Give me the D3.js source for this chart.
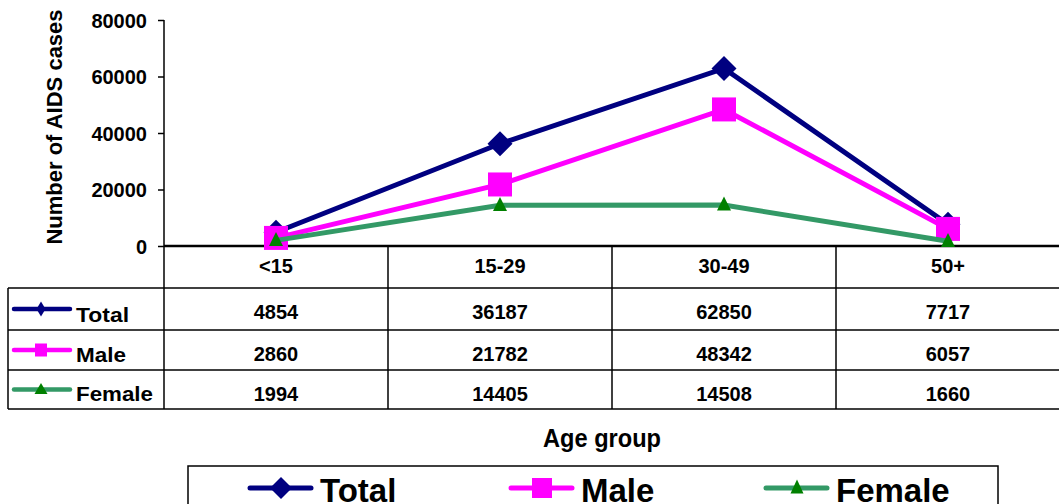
<!DOCTYPE html>
<html>
<head>
<meta charset="utf-8">
<script src="https://cdn.jsdelivr.net/npm/d3@7"></script>
<style>
  body { margin: 0; background: #fff; }
  svg { display: block; font-family: Arial, "Liberation Sans", sans-serif; }
</style>
</head>
<body>
<div id="chart"></div>
<script>
// data
const ageGroups = ["<15", "15-29", "30-49", "50+"];
const totalCases = [4854, 36187, 62850, 7717];
const maleCases = [2860, 21782, 48342, 6057];
const femaleCases = [1994, 14405, 14508, 1660];
const yTicks = [0, 20000, 40000, 60000, 80000];

const series = [
    {name: "Total", values: totalCases, line: "#000080", fill: "#000080", shape: "diamond"},
    {name: "Male", values: maleCases, line: "#ff00ff", fill: "#ff00ff", shape: "square"},
    {name: "Female", values: femaleCases, line: "#339966", fill: "#008000", shape: "triangle"}
];

const W = 1059, H = 504;
const svg = d3.select("#chart").append("svg")
    .attr("width", W).attr("height", H);

const plotLeft = 164, plotRight = 1060, plotTop = 20, zeroY = 246;
const rowLines = [288, 330, 370, 409];
const labelWidths = [53, 50, 77];
const narrow = "'Liberation Sans Narrow', 'Arial Narrow', Arial, sans-serif";

const x = d3.scaleBand().domain(ageGroups).range([plotLeft, plotRight]);
const y = d3.scaleLinear().domain([0, 80000]).range([zeroY, plotTop]);
const cx = a => x(a) + x.bandwidth() / 2;

// y axis
const yAxis = svg.append("g")
    .attr("transform", `translate(${plotLeft},0)`)
    .call(d3.axisLeft(y).tickValues(yTicks).tickSize(6).tickSizeOuter(0).tickFormat(d3.format("d")));
yAxis.select(".domain").remove();
yAxis.selectAll("line").attr("stroke", "#000").attr("stroke-width", 1.5);
yAxis.selectAll("text")
    .attr("x", -17).attr("dy", "0.36em")
    .style("font-size", "20px").style("font-weight", "bold")
    .style("font-family", "Arial, 'Liberation Sans', sans-serif");

svg.append("text")
    .attr("transform", `translate(62,127) rotate(-90)`)
    .attr("text-anchor", "middle")
    .style("font-size", "22px").style("font-weight", "bold")
    .text("Number of AIDS cases");

// table grid
const tableBottom = rowLines[3];
const g = svg.append("g").attr("stroke", "#000").attr("stroke-width", 1.5);
g.append("line").attr("x1", plotLeft).attr("x2", plotLeft).attr("y1", plotTop).attr("y2", tableBottom);
g.append("line").attr("x1", plotLeft).attr("x2", W).attr("y1", zeroY).attr("y2", zeroY).attr("stroke-width", 2.5);
rowLines.forEach(ry => {
    g.append("line").attr("x1", 8).attr("x2", W).attr("y1", ry).attr("y2", ry);
});
g.append("line").attr("x1", 8).attr("x2", 8).attr("y1", rowLines[0]).attr("y2", tableBottom);
ageGroups.slice(1).forEach(a => {
    g.append("line").attr("x1", x(a)).attr("x2", x(a)).attr("y1", zeroY).attr("y2", tableBottom);
});

// header labels
svg.selectAll(".hdr").data(ageGroups).enter().append("text")
    .attr("x", d => cx(d))
    .attr("y", 273)
    .attr("text-anchor", "middle")
    .style("font-size", "20px").style("font-weight", "bold")
    .text(d => d);

function marker(sel, shape, w, h, fill) {
    if (shape === "diamond") {
        sel.append("path").attr("d", `M0,${-h / 2}L${w / 2},0L0,${h / 2}L${-w / 2},0Z`).attr("fill", fill);
    } else if (shape === "square") {
        sel.append("rect").attr("x", -w / 2).attr("y", -h / 2).attr("width", w).attr("height", h).attr("fill", fill);
    } else {
        sel.append("path").attr("d", `M0,${-h * 0.6}L${w / 2},${h * 0.4}L${-w / 2},${h * 0.4}Z`).attr("fill", fill);
    }
}

const tableMk = {diamond: [9, 15], square: [12, 13], triangle: [13, 11]};
const plotMk = {diamond: [25, 25], square: [24, 24], triangle: [14, 14]};
const legMk = {diamond: [22, 22], square: [20, 20], triangle: [13, 14]};

// table rows
series.forEach((s, i) => {
    const rTop = rowLines[i], rBot = rowLines[i + 1];
    const mid = (rTop + rBot) / 2;
    const k = svg.append("g");
    k.append("line").attr("x1", 14).attr("x2", 70).attr("y1", mid).attr("y2", mid)
        .attr("stroke", s.line).attr("stroke-width", 4.5).attr("stroke-linecap", "round");
    const m = k.append("g").attr("transform", `translate(41,${mid})`);
    marker(m, s.shape, tableMk[s.shape][0], tableMk[s.shape][1], s.fill);
    k.append("text").attr("x", 76).attr("y", rBot - 8)
        .attr("textLength", labelWidths[i]).attr("lengthAdjust", "spacingAndGlyphs")
        .style("font-size", "21px").style("font-weight", "bold")
        .text(s.name);
    svg.selectAll(null).data(s.values).enter().append("text")
        .attr("x", (d, j) => cx(ageGroups[j]))
        .attr("y", rTop + 31)
        .attr("text-anchor", "middle")
        .style("font-size", "20px").style("font-weight", "bold")
        .text(d => d);
});

// lines and markers, series by series
const lineGen = d3.line().x((d, j) => cx(ageGroups[j])).y(d => y(d));
series.forEach(s => {
    svg.append("path").datum(s.values).attr("d", lineGen)
        .attr("fill", "none").attr("stroke", s.line).attr("stroke-width", 5)
        .attr("stroke-linejoin", "miter");
    s.values.forEach((v, j) => {
        const m = svg.append("g")
            .attr("transform", `translate(${cx(ageGroups[j])},${y(v)})`);
        marker(m, s.shape, plotMk[s.shape][0], plotMk[s.shape][1], s.fill);
    });
});

// axis title
svg.append("text").attr("x", 602).attr("y", 447).attr("text-anchor", "middle")
    .attr("textLength", 118).attr("lengthAdjust", "spacingAndGlyphs")
    .style("font-size", "26px").style("font-weight", "bold")
    .text("Age group");

// legend
svg.append("rect").attr("x", 188).attr("y", 466).attr("width", 810).attr("height", 45)
    .attr("fill", "none").attr("stroke", "#000").attr("stroke-width", 1.5);
const legX = [248, 509, 764];
series.forEach((s, i) => {
    const lg = svg.append("g").attr("transform", `translate(${legX[i]},488)`);
    lg.append("line").attr("x1", 2).attr("x2", 63).attr("y1", 0).attr("y2", 0)
        .attr("stroke", s.line).attr("stroke-width", 5).attr("stroke-linecap", "round");
    const m = lg.append("g").attr("transform", "translate(33,0)");
    marker(m, s.shape, legMk[s.shape][0], legMk[s.shape][1], s.fill);
    lg.append("text").attr("x", 72).attr("y", 14)
        .style("font-family", narrow)
        .style("font-size", "33px").style("font-weight", "bold")
        .text(s.name);
});
</script>
</body>
</html>
